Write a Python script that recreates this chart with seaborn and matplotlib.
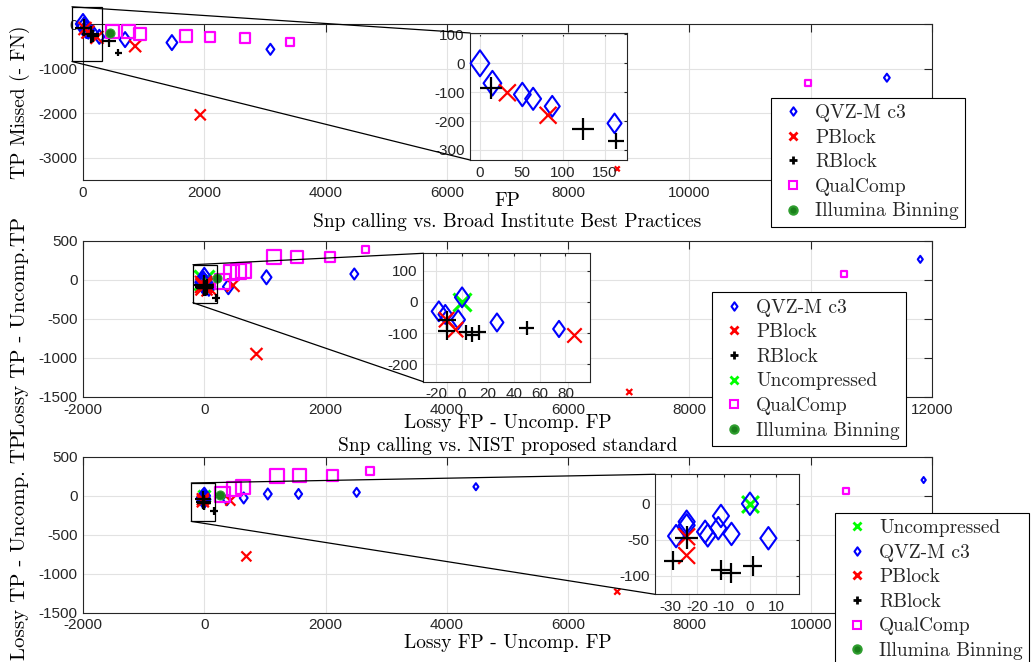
import numpy as np
import matplotlib
matplotlib.use("Agg")
import matplotlib.pyplot as plt
from matplotlib.patches import Rectangle, ConnectionPatch
from matplotlib.lines import Line2D
from matplotlib.path import Path
import seaborn as sns

# ---------------- data ----------------
# Panel A: raw FP vs. TP missed (-FN)
a_qvz_x = [0, 15, 51, 64, 87, 162, 269, 694, 1466, 3090, 13256]
a_qvz_y = [0, -69, -108, -123, -149, -208, -287, -350, -417, -568, -1205]
a_pblock_x = [33, 82, 230, 860, 1934, 8810]
a_pblock_y = [-102, -180, -300, -497, -2038, -3250]
a_rblock_x = [13, 124, 164, 435, 579]
a_rblock_y = [-87, -228, -269, -380, -643]
a_qualcomp_x = [479, 744, 942, 1696, 2100, 2672, 3420, 11950]
a_qualcomp_y = [-160, -175, -220, -265, -295, -325, -393, -1318]
a_illumina_x = [446]
a_illumina_y = [-212]

# Panel B: Broad Institute best practices, differences to uncompressed
b_uncomp_x = [0]
b_uncomp_y = [0]
b_qvz_x = [0, -18, -13, -3, 27, 75, 397, 1025, 2474, 11807]
b_qvz_y = [15, -30, -40, -57, -66, -87, -86, 35, 77, 265]
b_pblock_x = [-12, -5, 87, 474, 860, 7008]
b_pblock_y = [-57, -89, -108, -68, -949, -1436]
b_rblock_x = [-12, -12, 3, 8, 13, 50, 193]
b_rblock_y = [-59, -95, -98, -105, -98, -84, -235]
b_qualcomp_x = [303, 441, 557, 640, 1157, 1537, 2072, 2656, 10557]
b_qualcomp_y = [-22, 94, 106, 128, 299, 299, 299, 397, 77]
b_illumina_x = [210]
b_illumina_y = [22]

# Panel C: NIST proposed standard, differences to uncompressed
c_uncomp_x = [0]
c_uncomp_y = [0]
c_qvz_x = [0, -11, -28, -24, -24, -17, -16, -12, -7, 7, 375, 650, 1047, 1554, 2512, 4479, 11862]
c_qvz_y = [0, -17, -45, -25, -30, -39, -44, -34, -42, -48, -51, -29, 22, 22, 43, 115, 201]
c_pblock_x = [-24, -24, 430, 694, 6810]
c_pblock_y = [-46, -72, -64, -778, -1230]
c_rblock_x = [-24, -29, -11, -7, 1, 154]
c_rblock_y = [-47, -79, -92, -96, -87, -201]
c_qualcomp_x = [303, 484, 640, 1201, 1570, 2110, 2732, 10578]
c_qualcomp_y = [13, 90, 107, 256, 256, 256, 320, 64]
c_illumina_x = [253]
c_illumina_y = [13]

# marker sizes (pixels) for each point, grows with the bit rate of the run
a_qvz_px = [20, 19, 18, 17, 16, 15, 14, 15, 15, 11, 8]
a_pblock_px = [13, 13, 13, 12, 11, 5]
a_rblock_px = [17, 17, 12, 13, 7]
a_qualcomp_px = [13, 13, 12, 12, 10, 10, 8, 6]
a_illumina_px = [9]

b_uncomp_px = [20]
b_qvz_px = [22, 22, 21, 21, 20, 18, 15, 14, 11, 7]
b_pblock_px = [17, 17, 16, 13, 12, 6]
b_rblock_px = [20, 18, 16, 16, 16, 16, 8]
b_qualcomp_px = [15, 15, 15, 15, 14, 12, 10, 7, 6]
b_illumina_px = [9]

c_uncomp_px = [12]
c_qvz_px = [16, 16, 16, 16, 16, 16, 16, 16, 16, 16, 11, 11, 11, 10, 9, 7, 6]
c_pblock_px = [12, 12, 10, 10, 6]
c_rblock_px = [16, 14, 14, 14, 14, 8]
c_qualcomp_px = [15, 14, 14, 14, 13, 11, 8, 6]
c_illumina_px = [9]

# ---------------- style ----------------
sns.set_theme(style="white")
plt.rcParams["font.family"] = ["Liberation Sans", "DejaVu Sans"]
plt.rcParams["axes.unicode_minus"] = False

SERIF = "cmr10"
TXT = "#262626"
PX = 72 / 100  # points per pixel at dpi 100

DIAMOND = Path([(0, 1), (0.72, 0), (0, -1), (-0.72, 0), (0, 1)],
               [Path.MOVETO, Path.LINETO, Path.LINETO, Path.LINETO, Path.CLOSEPOLY])

STYLE = {
    "QVZ-M c3": dict(marker=DIAMOND, face="none", edge="#0000ff", lw=1.5),
    "PBlock": dict(marker="x", color="#ff0000", lw=1.6),
    "RBlock": dict(marker="+", color="#000000", lw=1.6),
    "Uncompressed": dict(marker="x", color="#00ff00", lw=2.2),
    "QualComp": dict(marker="s", face="none", edge="#ff00ff", lw=1.6),
    "Illumina Binning": dict(marker="o", face="#1a7f1a", edge="#2f9e2f", lw=0.8),
}

W, H = 1031, 662


def rect(l, t, r, b):
    return [l / W, 1 - b / H, (r - l) / W, (b - t) / H]


def draw_series(ax, name, xs, ys, px, scale=1.0, xlim=None, ylim=None):
    x = np.asarray(xs, float)
    y = np.asarray(ys, float)
    s = np.asarray(px, float)
    keep = np.ones(len(x), bool)
    if xlim is not None:
        keep &= (x >= xlim[0]) & (x <= xlim[1]) & (y >= ylim[0]) & (y <= ylim[1])
    if not keep.any():
        return
    st = STYLE[name]
    kw = dict(marker=st["marker"], s=(s[keep] * scale * PX) ** 2, linewidth=st["lw"],
              legend=False, clip_on=False, zorder=3)
    if "face" in st:
        kw.update(facecolor=st["face"], edgecolor=st["edge"])
    else:
        kw.update(color=st["color"])
    sns.scatterplot(x=x[keep], y=y[keep], ax=ax, **kw)


def style_axes(ax, xticks, yticks, xlim, ylim, ticklen=6):
    ax.set_xlim(*xlim)
    ax.set_ylim(*ylim)
    ax.set_xticks(xticks)
    ax.set_yticks(yticks)
    ax.grid(True, color="#e2e2e2", lw=0.8)
    ax.set_axisbelow(True)
    ax.tick_params(direction="in", length=ticklen, width=0.8, top=True, right=True,
                   labelsize=11, pad=4, colors=TXT)
    for sp in ax.spines.values():
        sp.set_color(TXT)
        sp.set_linewidth(0.8)
    ax.set_facecolor("white")


def legend_handle(name):
    st = STYLE[name]
    if "face" in st:
        return Line2D([0], [0], linestyle="none", marker=st["marker"], markersize=6,
                      markerfacecolor=st["face"], markeredgecolor=st["edge"],
                      markeredgewidth=1.5)
    return Line2D([0], [0], linestyle="none", marker=st["marker"], markersize=6,
                  color=st["color"], markeredgewidth=2)


fig = plt.figure(figsize=(W / 100, H / 100), dpi=100)
fig.patch.set_facecolor("white")

panels = [
    dict(
        series=[("QVZ-M c3", a_qvz_x, a_qvz_y, a_qvz_px),
                ("PBlock", a_pblock_x, a_pblock_y, a_pblock_px),
                ("RBlock", a_rblock_x, a_rblock_y, a_rblock_px),
                ("QualComp", a_qualcomp_x, a_qualcomp_y, a_qualcomp_px),
                ("Illumina Binning", a_illumina_x, a_illumina_y, a_illumina_px)],
        box=rect(83, 24, 932, 180), xlim=(0, 14000), ylim=(-3500, 0),
        xticks=np.arange(0, 14001, 2000), yticks=[-3000, -2000, -1000, 0],
        xlabel="FP", xlabel_y=-0.075,
        ylabel="TP Missed (- FN)", ylabel_size=14, ylabel_y=0.5, title=None,
        inset=rect(470, 33, 627, 160), in_xlim=(-12, 177), in_ylim=(-335, 105),
        in_xticks=[0, 50, 100, 150], in_yticks=[-300, -200, -100, 0, 100], in_scale=1.3,
        zoom=(-182, 314, -841, 386), legend_at=(770.7, 97.7),
    ),
    dict(
        series=[("Uncompressed", b_uncomp_x, b_uncomp_y, b_uncomp_px),
                ("QVZ-M c3", b_qvz_x, b_qvz_y, b_qvz_px),
                ("PBlock", b_pblock_x, b_pblock_y, b_pblock_px),
                ("RBlock", b_rblock_x, b_rblock_y, b_rblock_px),
                ("QualComp", b_qualcomp_x, b_qualcomp_y, b_qualcomp_px),
                ("Illumina Binning", b_illumina_x, b_illumina_y, b_illumina_px)],
        legend_order=["QVZ-M c3", "PBlock", "RBlock", "Uncompressed", "QualComp", "Illumina Binning"],
        box=rect(83, 241, 932, 397), xlim=(-2000, 12000), ylim=(-1500, 500),
        xticks=np.arange(-2000, 12001, 2000), yticks=np.arange(-1500, 501, 500),
        xlabel="Lossy FP - Uncomp. FP", xlabel_y=-0.11,
        ylabel="Lossy TP - Uncomp.TP", ylabel_size=15, ylabel_y=0.45,
        title="Snp calling vs. Broad Institute Best Practices", title_pad=10,
        inset=rect(423.3, 253.3, 590, 381.7), in_xlim=(-30, 99), in_ylim=(-257, 157),
        in_xticks=[-20, 0, 20, 40, 60, 80], in_yticks=[-200, -100, 0, 100], in_scale=0.9,
        zoom=(-187, 210, -291, 196), legend_at=(711.7, 292.3),
    ),
    dict(
        series=[("Uncompressed", c_uncomp_x, c_uncomp_y, c_uncomp_px),
                ("QVZ-M c3", c_qvz_x, c_qvz_y, c_qvz_px),
                ("PBlock", c_pblock_x, c_pblock_y, c_pblock_px),
                ("RBlock", c_rblock_x, c_rblock_y, c_rblock_px),
                ("QualComp", c_qualcomp_x, c_qualcomp_y, c_qualcomp_px),
                ("Illumina Binning", c_illumina_x, c_illumina_y, c_illumina_px)],
        box=rect(83, 456.7, 932, 612.7), xlim=(-2000, 12000), ylim=(-1500, 500),
        xticks=np.arange(-2000, 12001, 2000), yticks=np.arange(-1500, 501, 500),
        xlabel="Lossy FP - Uncomp. FP", xlabel_y=-0.135,
        ylabel="Lossy TP - Uncomp. TP", ylabel_size=15, ylabel_y=0.42,
        title="Snp calling vs. NIST proposed standard", title_pad=4,
        inset=rect(655, 474.3, 799, 594.3), in_xlim=(-36, 18.6), in_ylim=(-126, 41),
        in_xticks=[-30, -20, -10, 0, 10], in_yticks=[-100, -50, 0], in_scale=1.4,
        zoom=(-215, 182, -329, 163), legend_at=(835, 512.7),
    ),
]

for p in panels:
    ax = fig.add_axes(p["box"])
    style_axes(ax, p["xticks"], p["yticks"], p["xlim"], p["ylim"])
    for name, xs, ys, px in p["series"]:
        draw_series(ax, name, xs, ys, px)

    ax.set_xlabel(p["xlabel"], fontfamily=SERIF, fontsize=14, color="black")
    ax.xaxis.set_label_coords(0.5, p["xlabel_y"])
    ax.set_ylabel(p["ylabel"], fontfamily=SERIF, fontsize=p["ylabel_size"], color="black")
    ax.yaxis.set_label_coords(-0.0742, p["ylabel_y"])
    ax.yaxis.label.set_va("center")
    if p["title"]:
        ax.set_title(p["title"], fontfamily=SERIF, fontsize=14, pad=p["title_pad"], color="black")

    # zoom box on the main axes
    x0, x1, y0, y1 = p["zoom"]
    ax.add_patch(Rectangle((x0, y0), x1 - x0, y1 - y0, fill=False, ec="black",
                           lw=0.9, clip_on=False, zorder=4))

    # magnified inset
    ins = fig.add_axes(p["inset"])
    style_axes(ins, p["in_xticks"], p["in_yticks"], p["in_xlim"], p["in_ylim"], ticklen=2)
    for name, xs, ys, px in p["series"]:
        draw_series(ins, name, xs, ys, px, scale=p["in_scale"],
                    xlim=p["in_xlim"], ylim=p["in_ylim"])

    for (yd, ya) in [(y1, 1), (y0, 0)]:
        con = ConnectionPatch(xyA=(x0, yd), coordsA=ax.transData,
                              xyB=(0, ya), coordsB=ins.transAxes,
                              color="black", lw=0.9)
        fig.add_artist(con)

    order = p.get("legend_order", [s[0] for s in p["series"]])
    lx, ly = p["legend_at"]
    leg = fig.legend([legend_handle(n) for n in order], order,
                     loc="upper left", bbox_to_anchor=(lx / W, 1 - ly / H),
                     bbox_transform=fig.transFigure, borderaxespad=0,
                     prop={"family": SERIF, "size": 14}, frameon=True, fancybox=False,
                     framealpha=1, edgecolor="black", borderpad=0.33,
                     handlelength=1.6, handletextpad=0.35, labelspacing=0.34)
    leg.get_frame().set_linewidth(0.8)

fig.savefig("out.png", dpi=100, facecolor="white")
